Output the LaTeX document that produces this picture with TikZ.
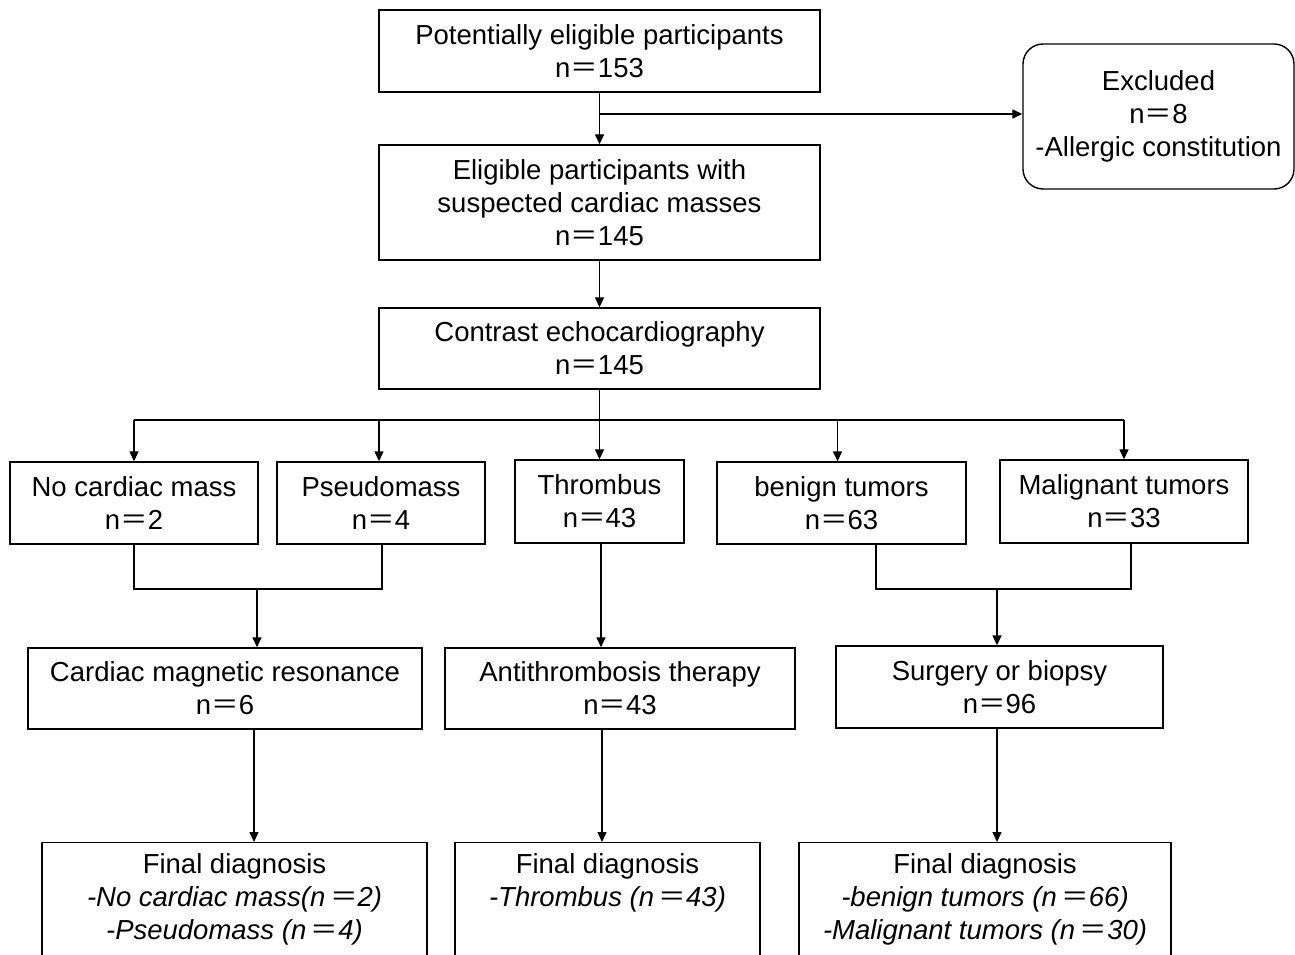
\documentclass[tikz,border=0pt]{standalone}
\usepackage{fontspec}
\setmainfont{Liberation Sans}
\newfontfamily\cjk{Noto Sans CJK SC}
\usetikzlibrary{arrows.meta,calc}
\newcommand{\eqq}{{\cjk ＝}}
\begin{document}
\begin{tikzpicture}[x=1pt,y=-1pt,
  every node/.style={font=\fontsize{27.5}{33}\selectfont},
  box/.style={draw=black,line width=1.4pt,align=center,inner sep=2pt},
  rbox/.style={box,rounded corners=20pt},
  txt/.style={align=center,inner sep=0pt,anchor=north},
  ln/.style={line width=1.4pt,draw=black},
  arr/.style={ln,-{Triangle[length=10pt,width=9pt]}}]
\clip (0,0) rectangle (1295,955);
\fill[white] (0,0) rectangle (1295,955);
% top boxes
\node[box,minimum width=441pt,minimum height=82pt] (p) at (599.5,51) {Potentially eligible participants\\n\eqq153};
\node[rbox,minimum width=271pt,minimum height=145pt] (x) at (1158.5,116.5) {Excluded\\n\eqq8\\-Allergic constitution};
\node[box,minimum width=441pt,minimum height=115pt] (e) at (599.5,202.5) {Eligible participants with\\suspected cardiac masses\\n\eqq145};
\node[box,minimum width=441pt,minimum height=81pt] (c) at (599.5,348.5) {Contrast echocardiography\\n\eqq145};
% row of findings
\node[box,minimum width=248pt,minimum height=82pt] (nc) at (134,503) {No cardiac mass\\n\eqq2};
\node[box,minimum width=208pt,minimum height=82pt] (ps) at (381,503) {Pseudomass\\n\eqq4};
\node[box,minimum width=169pt,minimum height=83pt] (th) at (599.5,501.5) {Thrombus\\n\eqq43};
\node[box,minimum width=249pt,minimum height=82pt] (bt) at (841.5,503) {benign tumors\\n\eqq63};
\node[box,minimum width=248pt,minimum height=83pt] (mt) at (1124,501.5) {Malignant tumors\\n\eqq33};
% procedures
\node[box,minimum width=394pt,minimum height=81pt] (cmr) at (225,688.5) {Cardiac magnetic resonance\\n\eqq6};
\node[box,minimum width=350pt,minimum height=81pt] (at) at (620,688.5) {Antithrombosis therapy\\n\eqq43};
\node[box,minimum width=327pt,minimum height=82pt] (sb) at (999.5,687) {Surgery or biopsy\\n\eqq96};
% final diagnosis boxes
\node[box,minimum width=385pt,minimum height=150pt,anchor=north] (f1) at (234.5,842) {};
\node[box,minimum width=305pt,minimum height=150pt,anchor=north] (f2) at (607.5,842) {};
\node[box,minimum width=372pt,minimum height=150pt,anchor=north] (f3) at (985,842) {};
\node[txt] (f1t) at ([yshift=-11pt]f1.north) {Final diagnosis\\\itshape -No cardiac mass(n\,\eqq2)\\\itshape -Pseudomass (n\,\eqq4)};
\node[txt] (f2t) at ([yshift=-11pt]f2.north) {Final diagnosis\\\itshape -Thrombus (n\,\eqq43)};
\node[txt] (f3t) at ([yshift=-11pt]f3.north) {Final diagnosis\\\itshape -benign tumors (n\,\eqq66)\\\itshape -Malignant tumors (n\,\eqq30)};
% connectors
\coordinate (j1) at (599.5,114);
\draw[arr] (p.south) -- (e.north);
\draw[arr] (j1) -- (j1 -| x.west);
\draw[arr] (e.south) -- (c.north);
\coordinate (j2) at (599.5,420);
\draw[ln] (c.south) -- (j2);
\draw[ln] (j2 -| nc.north) -- (j2 -| mt.north);
\draw[arr] (j2 -| nc.north) -- (nc.north);
\draw[arr] ([xshift=-2pt]j2 -| ps.north) -- ([xshift=-2pt]ps.north);
\draw[arr] (j2) -- (th.north);
\draw[arr] ([xshift=-4pt]j2 -| bt.north) -- ([xshift=-4pt]bt.north);
\draw[arr] (j2 -| mt.north) -- (mt.north);
% merge left
\coordinate (j3) at (257,589);
\draw[ln] (nc.south) -- (j3 -| nc.south) -- ([xshift=1pt]j3 -| ps.south) -- ([xshift=1pt]ps.south);
\draw[arr] (j3) -- (j3 |- cmr.north);
% thrombus
\draw[arr] ([xshift=1.5pt]th.south) -- ([xshift=1.5pt]th.south |- at.north);
% merge right
\coordinate (j4) at (997,589);
\draw[ln] ([xshift=34.5pt]bt.south) -- ([xshift=34.5pt]j4 -| bt.south) -- ([xshift=7pt]j4 -| mt.south) -- ([xshift=7pt]mt.south);
\draw[arr] (j4) -- (j4 |- sb.north);
% to final
\draw[arr] ([xshift=-3pt]j3 |- cmr.south) -- ([xshift=-3pt]j3 |- f1.north);
\draw[arr] ([xshift=2.5pt]th.south |- at.south) -- ([xshift=2.5pt]th.south |- f2.north);
\draw[arr] (j4 |- sb.south) -- (j4 |- f3.north);
\end{tikzpicture}
\end{document}
